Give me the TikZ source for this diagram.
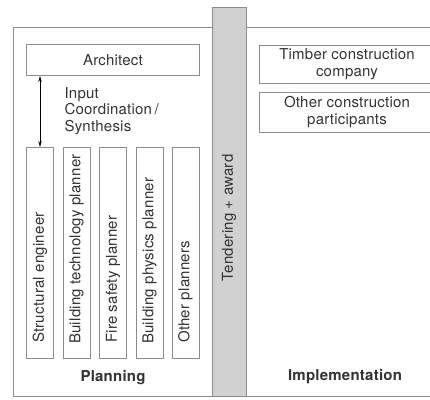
\documentclass[tikz,border=0pt]{standalone}
\usepackage{fontspec}
\setmainfont[LetterSpace=1.5]{TeX Gyre Heros}
\usetikzlibrary{arrows.meta}
\definecolor{framegray}{HTML}{8C8C8C}
\definecolor{bargray}{HTML}{D1D1D1}
\definecolor{txt}{HTML}{333333}
\begin{document}
\begin{tikzpicture}[x=1pt,y=-1pt,
  frame/.style={draw=framegray,line width=0.9pt},
  rolebox/.style={frame,fill=white,minimum width=27pt,minimum height=211pt,inner sep=0pt},
  roletext/.style={rotate=90,anchor=west,inner sep=0pt,text=txt,font=\fontsize{15}{16.5}\selectfont},
  label/.style={text=txt,font=\fontsize{15}{16.5}\selectfont,align=center},
  heading/.style={text=txt,font=\bfseries\fontsize{15}{16.5}\selectfont}]
\useasboundingbox (0,0) rectangle (430,399);
\clip (0,0) rectangle (430,399);

% outer frame (open to the right)
\draw[frame] (13,27) rectangle (445,396);

% tendering bar between the two phases
\node[frame,fill=bargray,minimum width=34pt,minimum height=389pt,inner sep=0pt,anchor=north west] (bar) at (212,7) {};
\node[label,rotate=90] (tend) at (229,218) {Tendering + award};

% planning side
\node[frame,minimum width=173pt,minimum height=31pt,inner sep=0pt,anchor=north west,label] (arch) at (26,44) {Architect};

\node[rolebox,anchor=north] (se)  at (40,147)    {};
\node[rolebox,anchor=north] (btp) at (76.5,147)  {};
\node[rolebox,anchor=north] (fsp) at (113,147)   {};
\node[rolebox,anchor=north] (bpp) at (149.5,147) {};
\node[rolebox,anchor=north] (op)  at (185.5,147) {};

\node[roletext] (tse)  at (40,343)    {Structural engineer};
\node[roletext] (tbtp) at (76.5,344)  {Building technology planner};
\node[roletext] (tfsp) at (113,343)   {Fire safety planner};
\node[roletext] (tbpp) at (149.5,344) {Building physics planner};
\node[roletext] (top)  at (185.5,343) {Other planners};

\draw[black,line width=0.7pt,{Stealth[length=6pt,width=3.5pt]}-{Stealth[length=6pt,width=3.5pt]}]
  (arch.south -| se.north) -- (se.north);
\node[label,align=left,anchor=west] (coord) at (61,111) {Input\\Coordination\,/\\Synthesis};

\node[heading] (plan) at (113,378) {Planning};

% implementation side
\node[frame,minimum width=181pt,minimum height=38pt,inner sep=0pt,anchor=north west] (timber) at (259,45) {};
\node[label] (ttimber) at (347,64) {Timber construction\\company};
\node[frame,minimum width=181pt,minimum height=40pt,inner sep=0pt,anchor=north west] (other) at (259,92) {};
\node[label] (tother) at (347,112) {Other construction\\participants};

\node[heading] (impl) at (345,377) {Implementation};
\end{tikzpicture}
\end{document}
